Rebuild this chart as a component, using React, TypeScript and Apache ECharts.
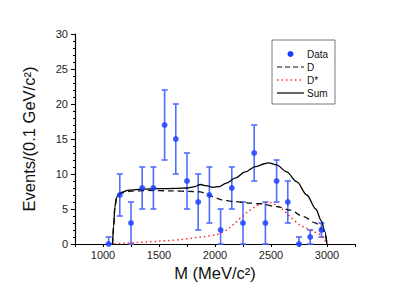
import React, { useEffect, useRef } from "react";
import * as echarts from "echarts";

// Measured data points (mass bin centre, events, error)
const massBins = [1050, 1150, 1250, 1350, 1450, 1550, 1650, 1750, 1850, 1950, 2050, 2150, 2250, 2350, 2450, 2550, 2650, 2750, 2850, 2950];
const events = [0, 7, 3, 8, 8, 17, 15, 9, 6, 7, 2, 8, 3, 13, 3, 9, 6, 0, 1, 2];
const errors = [1, 3, 3, 3, 3, 5, 5, 4, 4, 4, 3, 3, 3, 4, 3, 3, 3, 1, 1, 1];

// Fit curves
const sumM = [1085, 1095, 1105, 1120, 1140, 1170, 1230, 1350, 1500, 1650, 1750, 1820, 1870, 1920, 1980, 2040, 2100, 2180, 2270, 2360, 2450, 2480, 2550, 2640, 2730, 2820, 2900, 2950, 2980, 3000];
const sumV = [0, 2.5, 5.2, 6.6, 7.1, 7.4, 7.7, 7.85, 7.9, 7.95, 8.0, 8.2, 8.5, 8.35, 8.1, 8.2, 8.7, 9.4, 10.3, 11.05, 11.5, 11.6, 11.3, 10.3, 8.9, 7.0, 5.0, 3.3, 1.8, 0];

const dM = [1085, 1095, 1105, 1120, 1140, 1170, 1250, 1400, 1600, 1800, 1870, 1920, 1970, 2060, 2180, 2300, 2400, 2550, 2670, 2790, 2900, 2960, 2985, 3000];
const dV = [0, 2.5, 5.0, 6.5, 7.0, 7.3, 7.55, 7.65, 7.6, 7.5, 7.45, 7.2, 6.8, 6.3, 6.05, 5.85, 5.75, 5.35, 4.85, 3.9, 3.0, 2.0, 1.2, 0];

const dsM = [1100, 1200, 1300, 1400, 1500, 1600, 1700, 1800, 1900, 2000, 2060, 2120, 2180, 2240, 2300, 2360, 2420, 2480, 2540, 2600, 2670, 2760, 2850, 2940, 2975, 3000];
const dsV = [0.05, 0.12, 0.22, 0.3, 0.4, 0.5, 0.65, 0.85, 1.05, 1.3, 1.6, 2.2, 3.0, 3.9, 4.7, 5.35, 5.8, 5.95, 5.6, 5.0, 3.9, 2.7, 2.0, 1.3, 0.7, 0];

const xLabels = [1000, 1500, 2000, 2500, 3000];
const legendNames = ["Data", "D", "D*", "Sum"];

const FONT = "'Liberation Sans', Arial, sans-serif";
const BAR_COLOR = "#4f6eff";
const DOT_COLOR = "#1a3cff";

export default function App() {
  const ref = useRef<HTMLDivElement>(null);
  useEffect(() => {
    if (!ref.current) return;
    const chart = echarts.init(ref.current, undefined, { renderer: "svg" });
    const zip = (a: number[], b: number[]) => a.map((v, i) => [v, b[i]]);
    const errData = massBins.map((m, i) => [m, Math.max(0, events[i] - errors[i]), events[i] + errors[i]]);

    const lx0 = 277, lx1 = 304, tx = 307;
    const ly = [54, 67, 80, 93];

    chart.setOption({
      animation: false,
      backgroundColor: "#ffffff",
      grid: { left: 75, right: 60, top: 34, bottom: 50 },
      xAxis: {
        type: "value",
        min: 750,
        max: 3250,
        interval: 250,
        name: "M (MeV/c²)",
        nameLocation: "middle",
        nameGap: 19,
        nameTextStyle: { fontFamily: FONT, fontSize: 16.5, color: "#111" },
        axisLine: { lineStyle: { color: "#000", width: 1.2 } },
        axisTick: { show: true, length: 3, lineStyle: { color: "#000" } },
        splitLine: { show: false },
        axisLabel: {
          margin: 5,
          fontFamily: FONT,
          fontSize: 11,
          color: "#222",
          formatter: (v: number) => (xLabels.includes(v) ? String(v) : ""),
        },
      },
      yAxis: {
        type: "value",
        min: 0,
        max: 30,
        interval: 5,
        name: "Events/(0.1 GeV/c²)",
        nameLocation: "middle",
        nameGap: 38,
        nameTextStyle: { fontFamily: FONT, fontSize: 16.5, color: "#111" },
        axisLine: { show: true, lineStyle: { color: "#000", width: 1.2 } },
        axisTick: { show: true, length: 4, lineStyle: { color: "#000" } },
        minorTick: { show: true, splitNumber: 5, length: 2, lineStyle: { color: "#000" } },
        splitLine: { show: false },
        axisLabel: { margin: 7, fontFamily: FONT, fontSize: 11, color: "#222" },
      },
      series: [
        {
          name: "D*",
          type: "line",
          data: zip(dsM, dsV),
          showSymbol: false,
          smooth: 0.3,
          lineStyle: { color: "#ff2a2a", width: 1.5, type: [1.5, 3] },
        },
        {
          name: "D",
          type: "line",
          data: zip(dM, dV),
          showSymbol: false,
          smooth: 0.3,
          smoothMonotone: "x",
          lineStyle: { color: "#111", width: 1.3, type: [6, 4] },
        },
        {
          name: "Sum",
          type: "line",
          data: zip(sumM, sumV),
          showSymbol: false,
          smooth: 0.3,
          smoothMonotone: "x",
          lineStyle: { color: "#000", width: 1.3 },
        },
        {
          name: "err",
          type: "custom",
          data: errData,
          renderItem: (params: any, api: any) => {
            const x = api.value(0);
            const p0 = api.coord([x, api.value(1)]);
            const p1 = api.coord([x, api.value(2)]);
            const hw = 3;
            const style = { stroke: BAR_COLOR, lineWidth: 1.6 };
            return {
              type: "group",
              children: [
                { type: "line", shape: { x1: p0[0], y1: p0[1], x2: p1[0], y2: p1[1] }, style },
                { type: "line", shape: { x1: p0[0] - hw, y1: p0[1], x2: p0[0] + hw, y2: p0[1] }, style },
                { type: "line", shape: { x1: p1[0] - hw, y1: p1[1], x2: p1[0] + hw, y2: p1[1] }, style },
              ],
            };
          },
          z: 3,
        },
        {
          name: "Data",
          type: "scatter",
          data: zip(massBins, events),
          symbol: "circle",
          symbolSize: 6,
          itemStyle: { color: DOT_COLOR },
          z: 4,
        },
      ],
      graphic: [
        {
          type: "rect",
          shape: { x: 272, y: 40, width: 63, height: 64 },
          style: { fill: "#fff", stroke: "#555", lineWidth: 0.8 },
          z: 10,
        },
        { type: "circle", shape: { cx: (lx0 + lx1) / 2, cy: ly[0], r: 3 }, style: { fill: DOT_COLOR }, z: 11 },
        { type: "line", shape: { x1: lx0, y1: ly[1], x2: lx1, y2: ly[1] }, style: { stroke: "#111", lineWidth: 1.2, lineDash: [5, 3] }, z: 11 },
        { type: "line", shape: { x1: lx0, y1: ly[2], x2: lx1, y2: ly[2] }, style: { stroke: "#ff2a2a", lineWidth: 1.4, lineDash: [1.5, 3] }, z: 11 },
        { type: "line", shape: { x1: lx0, y1: ly[3], x2: lx1, y2: ly[3] }, style: { stroke: "#000", lineWidth: 1.2 }, z: 11 },
        ...legendNames.map((n, i) => ({
          type: "text",
          x: tx,
          y: ly[i],
          style: { text: n, fontFamily: FONT, fontSize: 10, fill: "#111", verticalAlign: "middle", align: "left" },
          z: 11,
        })),
      ],
    });
    return () => chart.dispose();
  }, []);
  return (
    <div
      ref={ref}
      style={{ position: "fixed", left: 0, top: 0, width: 415, height: 294, background: "#fff" }}
    />
  );
}
